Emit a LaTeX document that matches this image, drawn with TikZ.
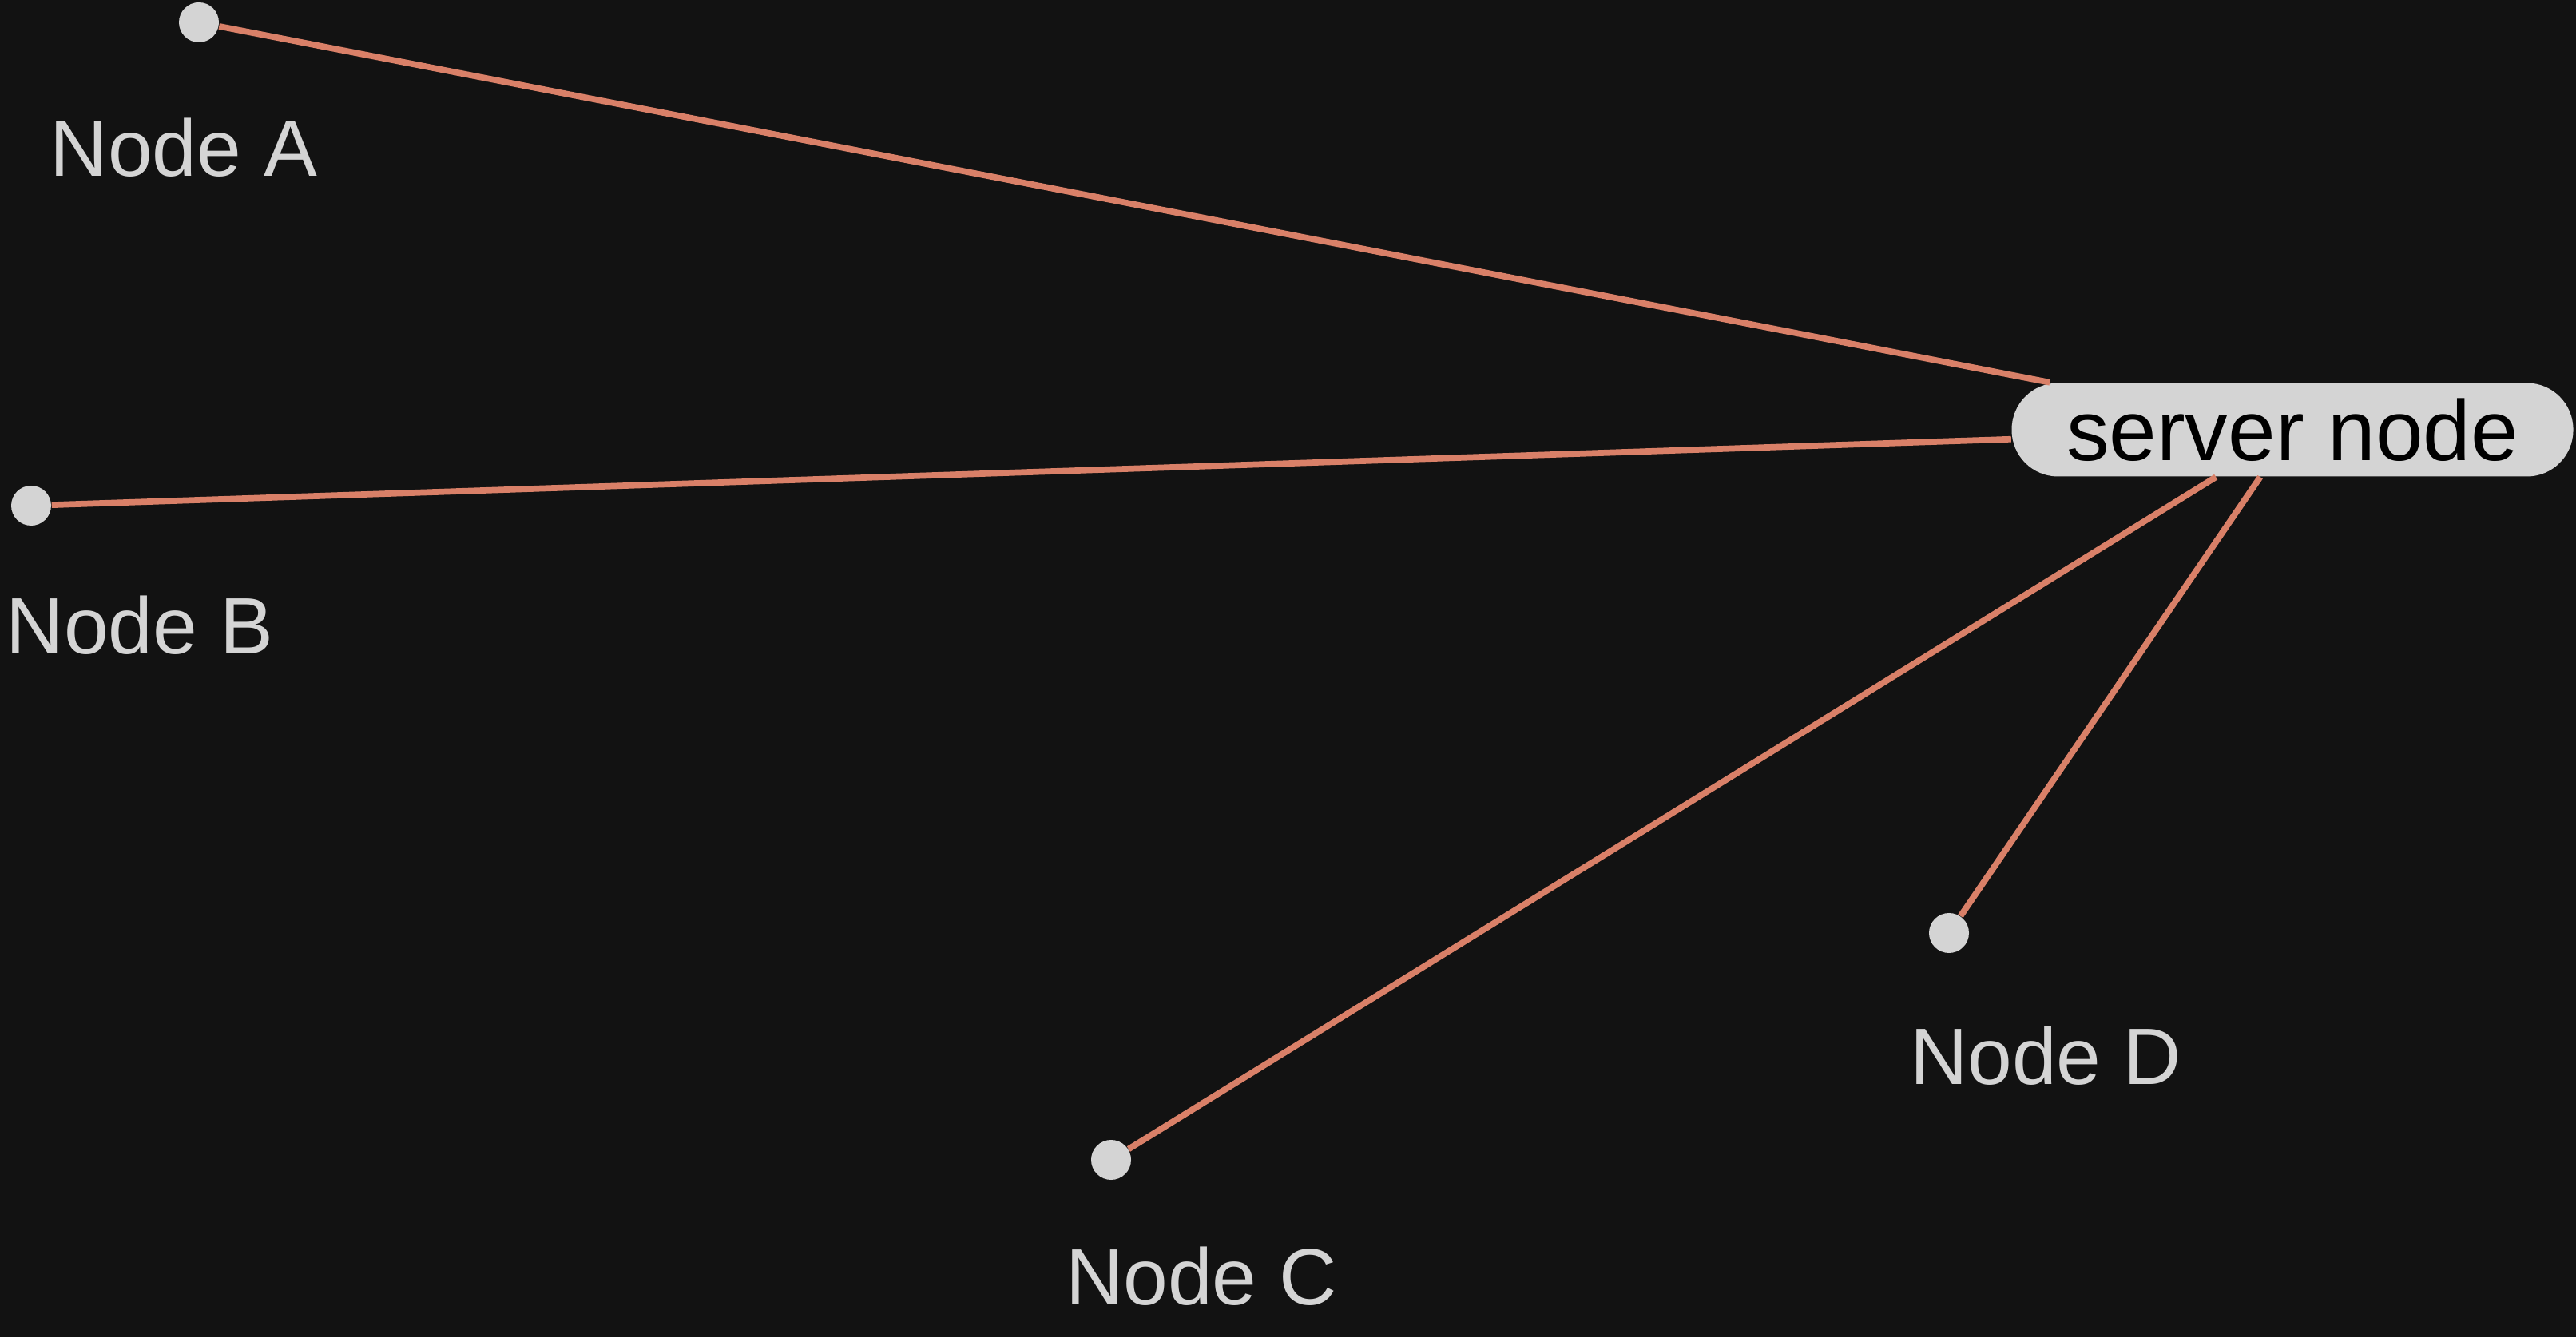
\documentclass[tikz,border=0pt]{standalone}
\usepackage{fontspec}
\setmainfont{Liberation Sans}
\definecolor{bgdark}{HTML}{121212}
\definecolor{nodegrey}{HTML}{D4D4D4}
\definecolor{linksalmon}{HTML}{D98068}
\begin{document}
\begin{tikzpicture}
		\tikzset{dotnode/.style={circle,fill=nodegrey,minimum size=0.5cm,inner sep=0pt},
			labelnode/.style={text=nodegrey,font=\fontsize{28.5}{32}\selectfont,inner sep=0pt},
			servernode/.style={rounded corners=0.58cm,fill=nodegrey,minimum width=7.03cm,minimum height=1.17cm,font=\fontsize{30.5}{34}\selectfont,text=black,inner sep=0pt},
			link/.style={draw=linksalmon,line width=2.2pt}}
		\fill [bgdark] (0,0) rectangle (32.25,16.74);
		\useasboundingbox (0,0) rectangle (32.25,16.74);
		\node [servernode] (server) at (28.70,11.36) {server node};
		\node [dotnode] (a) at (2.49,16.46) {};
		\node [labelnode] (alabel) at (2.30,14.89) {Node A};
		\node [dotnode] (b) at (0.39,10.41) {};
		\node [labelnode] (blabel) at (1.75,8.91) {Node B};
		\node [dotnode] (c) at (13.91,2.22) {};
		\node [labelnode] (clabel) at (15.04,0.76) {Node C};
		\node [dotnode] (d) at (24.40,5.06) {};
		\node [labelnode] (dlabel) at (25.61,3.52) {Node D};
		\draw [link] (a) -- (server);
		\draw [link] (b) -- (server);
		\draw [link] (c) -- (server);
		\draw [link] (d) -- (server);
\end{tikzpicture}
\end{document}
